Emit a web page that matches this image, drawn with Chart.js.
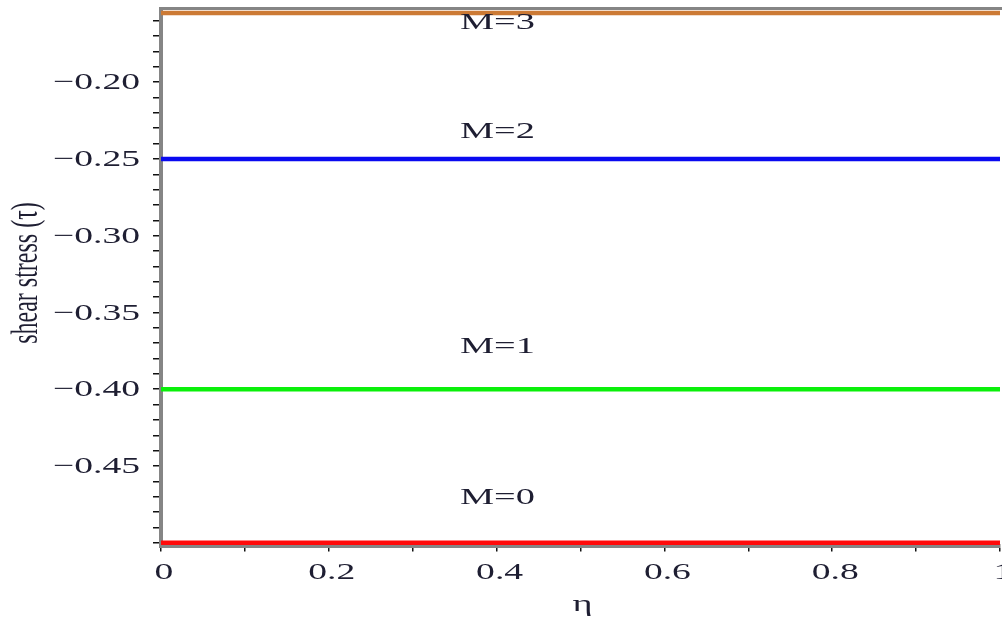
<!DOCTYPE html>
<html>
<head>
<meta charset="utf-8">
<script src="https://cdn.jsdelivr.net/npm/chart.js@4/dist/chart.umd.min.js"></script>
<style>
  html, body { margin: 0; padding: 0; background: #fff; }
  #wrap { width: 1002px; height: 617px; }
</style>
</head>
<body>
<div id="wrap"><canvas id="c" width="1002" height="617"></canvas></div>
<script>
// similarity variable η along the plate
const eta = [0, 0.2, 0.4, 0.6, 0.8, 1];
// shear stress τ for each magnetic parameter M
const tauM0 = [-0.50, -0.50, -0.50, -0.50, -0.50, -0.50];
const tauM1 = [-0.40, -0.40, -0.40, -0.40, -0.40, -0.40];
const tauM2 = [-0.25, -0.25, -0.25, -0.25, -0.25, -0.25];
const tauM3 = [-0.155, -0.155, -0.155, -0.155, -0.155, -0.155];
// curve annotations (name, η and τ of the text centre)
const curveNames = ['M=0', 'M=1', 'M=2', 'M=3'];
const curveLabelEta = [0.401, 0.401, 0.401, 0.401];
const curveLabelTau = [-0.4709, -0.372, -0.2321, -0.1615];
// axis tick labels
const yTickValues = [-0.20, -0.25, -0.30, -0.35, -0.40, -0.45];
const yTickText = ['\u22120.20', '\u22120.25', '\u22120.30', '\u22120.35', '\u22120.40', '\u22120.45'];
const xTickValues = [0, 0.2, 0.4, 0.6, 0.8, 1];
const xTickText = ['0', '0.2', '0.4', '0.6', '0.8', '1'];

const SERIF = '"Liberation Serif", "Times New Roman", serif';
const INK = '#1e1e32';
const STRETCH = 1.6;   // wide text proportions

function wideText(ctx, text, px, py, align) {
  ctx.save();
  ctx.translate(px, py);
  ctx.scale(STRETCH, 1);
  ctx.textAlign = align;
  ctx.fillText(text, 0, 0);
  ctx.restore();
}

function series(label, values, color) {
  return {
    label,
    data: eta.map((x, i) => ({ x, y: values[i] })),
    borderColor: color,
    backgroundColor: color,
    borderWidth: 4.5,
    pointRadius: 0,
    tension: 0,
    clip: false
  };
}

const annotate = {
  id: 'annotate',
  afterDraw(chart) {
    const { ctx, scales: { x, y }, chartArea } = chart;
    ctx.save();
    // top frame edge
    ctx.strokeStyle = '#858585';
    ctx.lineWidth = 3;
    ctx.beginPath();
    ctx.moveTo(chartArea.left - 2, chartArea.top);
    ctx.lineTo(chart.width, chartArea.top);
    ctx.stroke();

    ctx.fillStyle = INK;
    ctx.textBaseline = 'middle';
    // curve names
    ctx.font = '24px ' + SERIF;
    curveNames.forEach((t, i) => {
      wideText(ctx, t, x.getPixelForValue(curveLabelEta[i]), y.getPixelForValue(curveLabelTau[i]), 'center');
    });
    // tick labels
    ctx.font = '23.5px ' + SERIF;
    yTickValues.forEach((v, i) => {
      wideText(ctx, yTickText[i], chartArea.left - 21, y.getPixelForValue(v) + 1, 'right');
    });
    xTickValues.forEach((v, i) => {
      wideText(ctx, xTickText[i], x.getPixelForValue(v) + 3, 573, 'center');
    });
    // horizontal axis title
    ctx.font = '24px ' + SERIF;
    wideText(ctx, '\u03b7', (chartArea.left + chartArea.right) / 2 + 2, 605, 'center');
    // vertical axis title
    ctx.translate(27, 273);
    ctx.rotate(-Math.PI / 2);
    ctx.scale(1, STRETCH);
    ctx.font = '24px ' + SERIF;
    ctx.textAlign = 'center';
    ctx.fillText('shear stress (\u03c4)', 0, 0);
    ctx.restore();
  }
};

new Chart(document.getElementById('c'), {
  type: 'line',
  data: {
    datasets: [
      series('M=0', tauM0, '#ff0a0a'),
      series('M=1', tauM1, '#0af00a'),
      series('M=2', tauM2, '#0a0af0'),
      series('M=3', tauM3, '#cc7a35')
    ]
  },
  options: {
    responsive: false,
    animation: false,
    layout: { padding: { top: 8.5, right: 2, left: 0, bottom: 0 } },
    plugins: { legend: { display: false }, tooltip: { enabled: false } },
    scales: {
      x: {
        type: 'linear',
        min: 0,
        max: 1,
        afterBuildTicks: s => {
          const t = [];
          for (let i = 0; i <= 10; i++) t.push({ value: i / 10 });
          s.ticks = t;
        },
        afterFit: s => { s.height = 71.5; },
        border: { display: true, color: '#858585', width: 4 },
        grid: { drawOnChartArea: false, drawTicks: true, tickLength: 6, tickColor: '#111', lineWidth: 1.5 },
        ticks: { display: false }
      },
      y: {
        type: 'linear',
        min: -0.5018,
        max: -0.1520,
        afterBuildTicks: s => {
          const t = [];
          for (let i = 50; i >= 16; i--) t.push({ value: -i / 100 });
          s.ticks = t;
        },
        afterFit: s => { s.width = 161; },
        border: { display: true, color: '#858585', width: 4 },
        grid: { drawOnChartArea: false, drawTicks: true, tickLength: 8, tickColor: '#111', lineWidth: 1.5 },
        ticks: { display: false }
      }
    }
  },
  plugins: [annotate]
});
</script>
</body>
</html>
